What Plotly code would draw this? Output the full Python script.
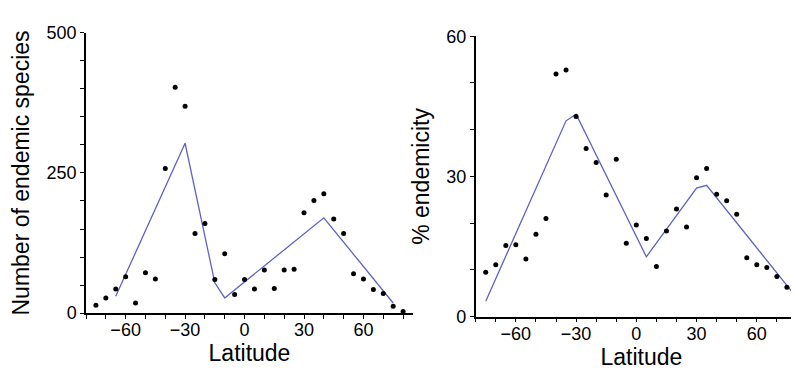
import plotly.graph_objects as go

# Left panel: number of endemic species
lat_pts = [-75, -70, -65, -60, -55, -50, -45, -40, -35, -30, -25, -20, -15, -10, -5, 0,
           5, 10, 15, 20, 25, 30, 35, 40, 45, 50, 55, 60, 65, 70, 75, 80]
endemic_species = [14, 27, 43, 65, 18, 72, 61, 258, 403, 369, 142, 160, 60, 106, 33, 60,
                   43, 77, 44, 77, 78, 179, 201, 213, 168, 142, 70, 61, 42, 35, 12, 3]
fit_species_lat = [-65, -30, -15, -10, 40, 75]
fit_species_val = [30, 303, 54, 27, 170, 18]

# Right panel: % endemicity
endemicity = [9.5, 11.1, 15.2, 15.4, 12.3, 17.6, 21.0, 51.9, 52.8, 42.8, 36.0, 33.0, 26.0, 33.7, 15.7, 19.6,
              16.7, 10.7, 18.3, 23.0, 19.2, 29.7, 31.7, 26.2, 24.8, 21.9, 12.6, 11.1, 10.5, 8.6, 6.3, 3.4]
fit_end_lat = [-75, -35, -30, 5, 30, 35, 85]
fit_end_val = [3.3, 41.9, 43.3, 12.8, 27.5, 28.1, 1.3]

LINE_COLOR = "#5e63c2"
FONT = "Arial, Liberation Sans, sans-serif"

fig = go.Figure()
fig.add_trace(go.Scatter(x=fit_species_lat, y=fit_species_val, mode="lines",
                         line=dict(color=LINE_COLOR, width=1.3), xaxis="x", yaxis="y",
                         showlegend=False))
fig.add_trace(go.Scatter(x=lat_pts, y=endemic_species, mode="markers",
                         marker=dict(color="black", size=5), xaxis="x", yaxis="y",
                         showlegend=False, cliponaxis=False))
fig.add_trace(go.Scatter(x=fit_end_lat, y=fit_end_val, mode="lines",
                         line=dict(color=LINE_COLOR, width=1.3), xaxis="x2", yaxis="y2",
                         showlegend=False))
fig.add_trace(go.Scatter(x=lat_pts, y=endemicity, mode="markers",
                         marker=dict(color="black", size=5), xaxis="x2", yaxis="y2",
                         showlegend=False, cliponaxis=False))

W, H = 799, 369

def xax(domain, anchor, standoff):
    return dict(domain=domain, anchor=anchor, range=[-80, 85], tickmode="linear", tick0=0, dtick=30,
                ticks="outside", ticklen=4, tickwidth=1.2, tickcolor="black",
                ticklabelstandoff=-4,
                minor=dict(dtick=10, tick0=0, ticks="outside", ticklen=4, tickwidth=1.2, tickcolor="black"),
                showline=True, linecolor="black", linewidth=1.5, showgrid=False, zeroline=False,
                tickfont=dict(size=18, color="black", family=FONT),
                title=dict(text="Latitude", font=dict(size=23, color="black", family=FONT), standoff=standoff))

def yax(domain, anchor, rng, dt, mdt, title, standoff):
    return dict(domain=domain, anchor=anchor, range=rng, tickmode="linear", tick0=0, dtick=dt,
                ticks="outside", ticklen=4, tickwidth=1.2, tickcolor="black",
                minor=dict(dtick=mdt, tick0=0, ticks="outside", ticklen=4, tickwidth=1.2, tickcolor="black"),
                showline=True, linecolor="black", linewidth=1.5, showgrid=False, zeroline=False,
                tickfont=dict(size=18, color="black", family=FONT),
                title=dict(text=title, font=dict(size=23, color="black", family=FONT), standoff=standoff))

fig.update_layout(
    width=W, height=H, margin=dict(l=0, r=0, t=0, b=0),
    paper_bgcolor="white", plot_bgcolor="white",
    font=dict(family=FONT, color="black"),
    xaxis=xax([78 / W, 405 / W], "y", 4),
    yaxis=yax([(H - 312) / H, (H - 15.7) / H], "x", [0, 500], 250, 50, "Number of endemic species", 12),
    xaxis2=xax([467.7 / W, 1.0], "y2", 0),
    yaxis2=yax([(H - 315.7) / H, (H - 19.3) / H], "x2", [0, 60], 30, 10, "% endemicity", 10),
)

fig.write_html("out.html")
